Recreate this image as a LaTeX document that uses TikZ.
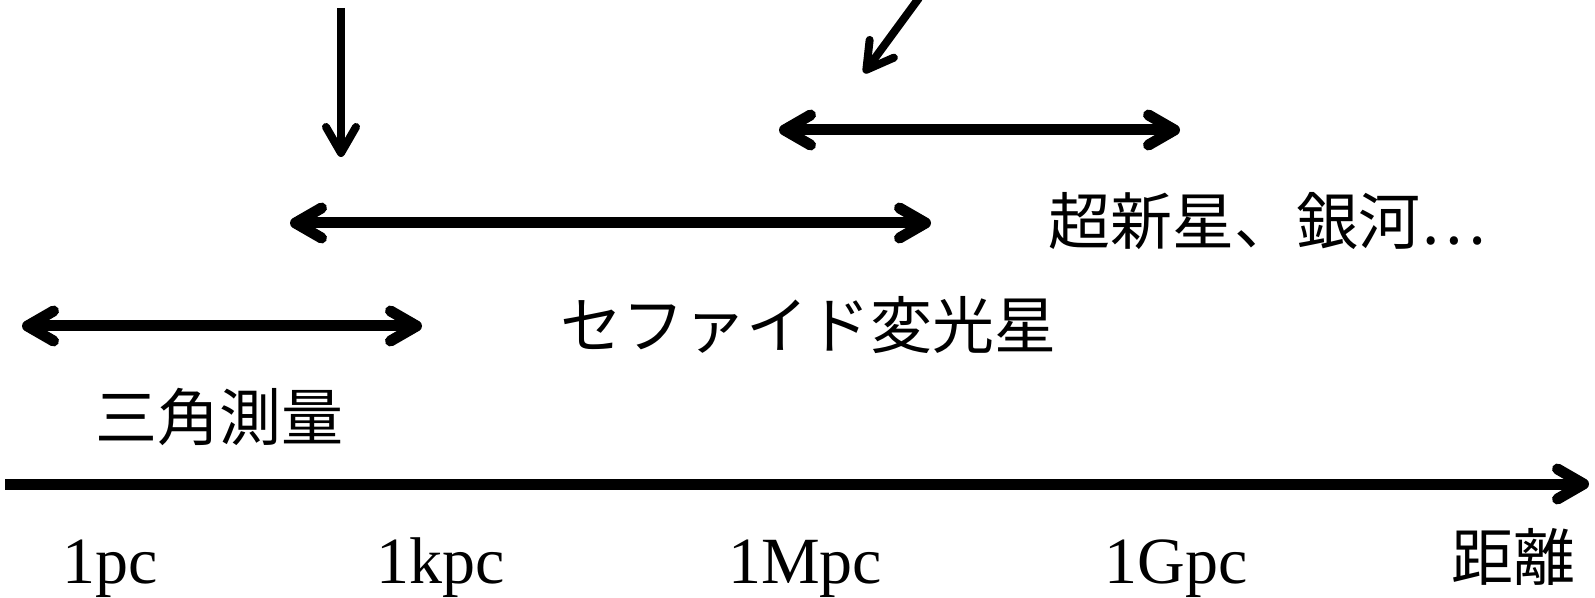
\documentclass[tikz,border=0pt]{standalone}
\usepackage{fontspec}
\setmainfont{Liberation Serif}
\newfontfamily\cjk{Noto Sans CJK JP}
\usetikzlibrary{arrows.meta}
\begin{document}
\begin{tikzpicture}[x=0.5pt,y=-0.5pt,
  tipb/.tip={Straight Barb[length=13pt,width=15pt,round]},
  dbl/.style={line width=5.5pt,tipb-tipb},
  axis/.style={line width=5.5pt,-tipb},
  thinarrow/.style={line width=4pt,-{Straight Barb[length=13pt,width=15pt,round]}},
  jlabel/.style={font=\cjk\fontsize{31}{36}\selectfont, inner sep=0pt},
  nlabel/.style={font=\fontsize{33}{38}\selectfont, inner sep=0pt, anchor=base}
]
\useasboundingbox (0,0) rectangle (1595,598);
% axis
\coordinate (ax0) at (5,484);
\coordinate (ax1) at (1589,484);
\draw[axis] (ax0) -- (ax1);
% labels under axis
\node[nlabel] (pc) at (110,583) {1pc};
\node[nlabel] (kpc) at (441,583) {1kpc};
\node[nlabel] (mpc) at (805,583) {1Mpc};
\node[nlabel] (gpc) at (1176,583) {1Gpc};
\node[jlabel] (dist) at (1513,557) {距離};
% range arrows
\coordinate (a0) at (22,326);
\coordinate (a1) at (422,326);
\draw[dbl] (a0) -- (a1);
\node[jlabel] (tri) at (219,417) {三角測量};
\coordinate (b0) at (290,223);
\coordinate (b1) at (931,223);
\draw[dbl] (b0) -- (b1);
\node[jlabel] (ceph) at (808,325) {セファイド変光星};
\coordinate (c0) at (779,130);
\coordinate (c1) at (1180,130);
\draw[dbl] (c0) -- (c1);
\node[jlabel] (sn) at (1267,221) {超新星、銀河…};
% pointer arrows
\coordinate (v0) at (341,8);
\coordinate (v1) at (341,157);
\draw[thinarrow] (v0) -- (v1);
\coordinate (d0) at (919,-2);
\coordinate (d1) at (864,73);
\draw[thinarrow] (d0) -- (d1);
\end{tikzpicture}
\end{document}
